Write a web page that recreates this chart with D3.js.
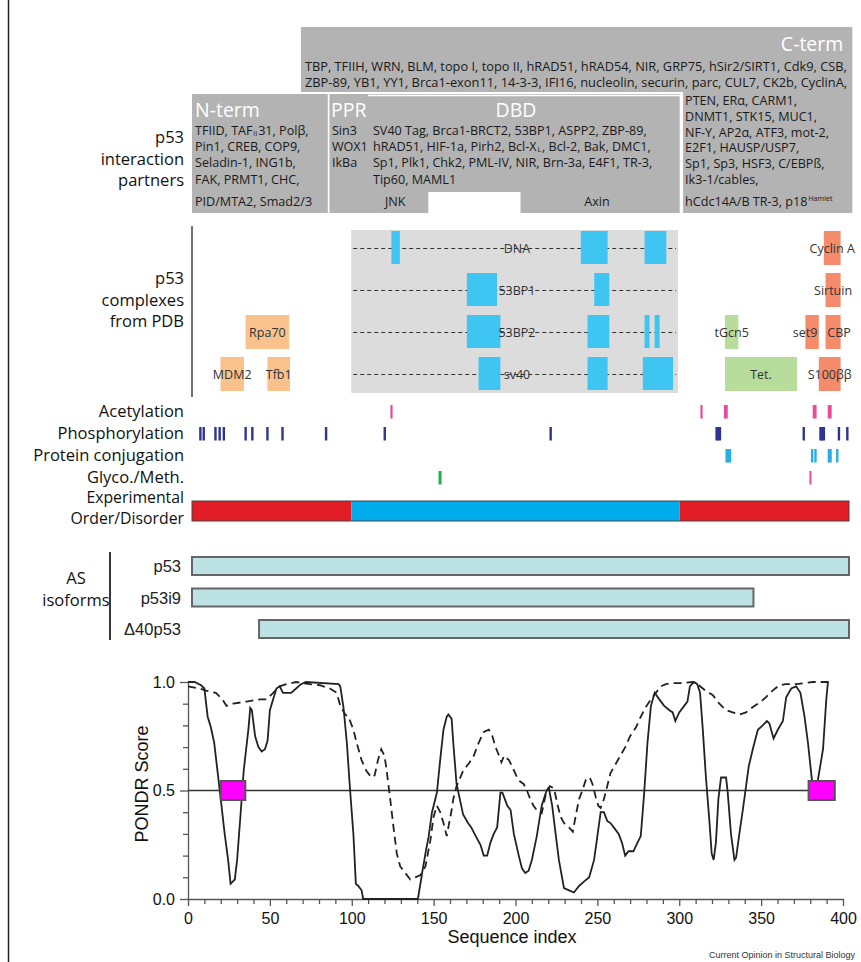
<!DOCTYPE html>
<html><head><meta charset="utf-8">
<script src="https://cdn.jsdelivr.net/npm/d3@7/dist/d3.min.js"></script>
<style>body{margin:0;background:#fff}svg{display:block}</style>
</head><body>
<svg id="c" width="861" height="962"></svg>
<script>
// ================= DATA =================
const seqLength = 393;

// interaction partner regions (residues)
const partnerDomains = ["N-term", "PPR", "DBD", "C-term"];
const partnerRanges = [[1, 82], [83, 106], [106, 292], [294, 395]];
const ctermTopRange = [66, 395];
const dbdNotch = [142, 197];

const ntermPartners = ["TFIID, TAF_{II}31, Polβ,", "Pin1, CREB, COP9,", "Seladin-1, ING1b,", "FAK, PRMT1, CHC,", "PID/MTA2, Smad2/3"];
const pprPartners = ["Sin3", "WOX1", "IkBa"];
const dbdPartners = ["SV40 Tag, Brca1-BRCT2, 53BP1, ASPP2, ZBP-89,", "hRAD51, HIF-1a, Pirh2, Bcl-X_{L}, Bcl-2, Bak, DMC1,", "Sp1, Plk1, Chk2, PML-IV, NIR, Brn-3a, E4F1, TR-3,", "Tip60, MAML1"];
const dbdLowerPartners = ["JNK", "Axin"];
const ctermTopPartners = ["TBP, TFIIH, WRN, BLM, topo I, topo II, hRAD51, hRAD54, NIR, GRP75, hSir2/SIRT1, Cdk9, CSB,",
  "ZBP-89, YB1, YY1, Brca1-exon11, 14-3-3, IFI16, nucleolin, securin, parc, CUL7, CK2b, CyclinA,"];
const ctermSidePartners = ["PTEN, ERα, CARM1,", "DNMT1, STK15, MUC1,", "NF-Y, AP2α, ATF3, mot-2,", "E2F1, HAUSP/USP7,", "Sp1, Sp3, HSF3, C/EBPß,", "Ik3-1/cables,", "hCdc14A/B TR-3, p18^{Hamlet}"];

// PDB complexes
const pdbRegion = [96, 291];
const dbdRows = ["DNA", "53BP1", "53BP2", "sv40"];
const dbdSegments = [
  [[120, 125], [233, 249], [271, 284]],
  [[165, 183], [241, 250]],
  [[165, 185], [237, 250], [271, 274], [277, 280]],
  [[172, 185], [237, 249], [270, 288]]
];
const ntermComplexes = [["MDM2", 3, 18, 32], ["Rpa70", 2, 33, 59], ["Tfb1", 3, 46, 59.5]];
const tetComplexes = [["tGcn5", 2, 319, 327], ["Tet.", 3, 319, 362]];
const ctermComplexes = [["Cyclin A", 0, 378, 388], ["Sirtuin", 1, 379, 388], ["set9", 2, 367, 375], ["CBP", 2, 379, 388], ["S100ββ", 3, 375, 388]];

// PTMs
const ptmRows = ["Acetylation", "Phosphorylation", "Protein conjugation", "Glyco./Meth."];
const acetylationSites = [120, 305, 319, 320, 372, 373, 381, 382];
const phosphorylationSites = [6, 8, 15, 17.5, 20, 33, 37, 46, 55, 81, 116, 215, 314, 315, 316, 366, 376, 377, 378, 387, 392];
const conjugationSites = [320, 321, 322, 371, 373, 381, 382, 386];
const glycosylationSites = [149];
const methylationSites = [370];

// experimental order / disorder
const orderSegments = [[1, 96, "disorder"], [96, 292, "order"], [292, 393, "disorder"]];

// alternative splicing isoforms
const isoformNames = ["p53", "p53i9", "Δ40p53"];
const isoformRanges = [[1, 393], [1, 336], [41, 393]];

// PONDR scores [sequence index, score]
const pondrSolid = [[0,1.0],[4,1.0],[8,0.985],[10,0.97],[12,0.84],[14,0.79],[16,0.72],[18,0.59],[20,0.46],[22.4,0.30],[24.5,0.18],[26,0.07],[28.6,0.09],[30,0.18],[32,0.38],[34,0.59],[37,0.79],[38,0.88],[39,0.87],[41,0.75],[43,0.70],[45,0.68],[47,0.69],[48.6,0.73],[50,0.87],[52,0.92],[54,0.97],[56,0.98],[58,0.95],[60,0.95],[63,0.95],[66,0.97],[69,0.99],[72,1.0],[92,0.99],[93,0.98],[95,0.88],[97,0.72],[99,0.50],[101,0.30],[102.5,0.07],[104,0.06],[106,0.04],[107,0.0],[140.4,0.0],[143,0.12],[145,0.21],[147,0.29],[149,0.40],[151,0.46],[152,0.49],[154,0.64],[156,0.78],[158,0.84],[159,0.85],[161,0.83],[162,0.72],[164,0.53],[166,0.46],[168,0.39],[171,0.35],[173,0.33],[175,0.30],[178.6,0.25],[180.6,0.20],[182.7,0.20],[184.7,0.26],[186.7,0.30],[188.8,0.33],[190.8,0.49],[192,0.49],[195,0.43],[197,0.41],[199,0.30],[202,0.20],[204,0.14],[206,0.12],[208,0.13],[210,0.18],[213,0.29],[216,0.43],[219,0.50],[220.4,0.51],[222.4,0.43],[224.5,0.30],[226.5,0.18],[229.6,0.05],[232.7,0.04],[235.7,0.03],[238.8,0.06],[241.8,0.08],[245,0.10],[248,0.18],[250,0.29],[252,0.40],[254,0.40],[256,0.36],[258,0.35],[260,0.33],[263,0.30],[265,0.26],[267,0.20],[269,0.22],[272,0.22],[274.5,0.26],[276.5,0.29],[278.6,0.49],[280.6,0.72],[282.7,0.89],[285,0.95],[287.8,0.92],[290.8,0.89],[294,0.87],[296,0.86],[297.6,0.82],[300,0.86],[303,0.89],[305,0.91],[306.5,0.98],[309,1.0],[311,0.99],[312.7,0.95],[314.3,0.79],[316.3,0.56],[318.4,0.36],[319.8,0.21],[321,0.18],[322.4,0.26],[323.9,0.46],[325.5,0.56],[328.6,0.56],[329.6,0.49],[331.6,0.30],[333.7,0.18],[334.7,0.19],[336.7,0.30],[338.8,0.41],[340.8,0.52],[342.4,0.61],[344.9,0.69],[348,0.78],[351,0.80],[353.5,0.82],[355,0.81],[357.6,0.74],[360.2,0.78],[363.3,0.82],[365.3,0.93],[368.4,0.97],[371.4,0.98],[374,0.95],[376.5,0.84],[378.6,0.72],[381,0.55],[382.7,0.52],[384.7,0.55],[387.8,0.69],[389.8,0.92],[390.8,1.0]];
const pondrDashed = [[0,0.98],[7,0.97],[11,0.96],[17,0.95],[21,0.92],[23.5,0.89],[27.5,0.90],[35.7,0.91],[44,0.92],[48,0.92],[52,0.95],[56,0.98],[60,0.99],[66,1.0],[74.5,0.99],[80.6,0.985],[86.7,0.97],[90.8,0.95],[93,0.89],[96,0.85],[98,0.84],[101,0.78],[103,0.72],[106,0.64],[109,0.59],[112,0.56],[114,0.57],[116,0.64],[118,0.69],[120,0.66],[121,0.61],[123.5,0.46],[125.5,0.33],[127.5,0.21],[129.6,0.15],[132.7,0.12],[135.7,0.09],[138.8,0.10],[142,0.11],[145,0.15],[148,0.27],[150,0.38],[152,0.43],[154,0.40],[156,0.35],[158,0.29],[159,0.33],[161,0.41],[162,0.46],[164,0.52],[168,0.59],[172,0.63],[174.5,0.66],[177.5,0.72],[180.6,0.77],[183.7,0.78],[185.7,0.755],[187.8,0.70],[190,0.66],[191.4,0.63],[193,0.66],[196,0.64],[198,0.61],[201,0.56],[203,0.54],[205,0.53],[207,0.50],[209,0.46],[211,0.43],[214,0.40],[216,0.395],[217,0.43],[219,0.50],[221,0.52],[223.5,0.51],[225.5,0.44],[227.5,0.38],[229.6,0.35],[232.7,0.33],[235,0.31],[236.7,0.38],[238.8,0.46],[240.8,0.50],[243,0.55],[245.3,0.56],[247,0.53],[249,0.47],[250.6,0.43],[252,0.42],[254,0.46],[256,0.52],[258,0.58],[261,0.62],[264,0.66],[267,0.70],[270,0.75],[273.5,0.79],[276.5,0.84],[279.6,0.885],[282.7,0.92],[285.7,0.95],[288.8,0.98],[291.8,0.99],[296,0.995],[302,0.995],[308,1.0],[312,0.985],[316,0.96],[320.4,0.94],[324.5,0.90],[328.6,0.87],[332.6,0.86],[336.7,0.85],[340.8,0.86],[345,0.885],[350,0.91],[353,0.93],[357,0.96],[361,0.985],[365,0.99],[371.4,0.99],[381.6,1.0],[393,1.0]];
const pondrThreshold = 0.5;
const pondrThresholdEnd = 380;
const pondrBoxes = [[20, 35], [379, 395]];
const xTickLabels = [0, 50, 100, 150, 200, 250, 300, 350, 400];
const yTickLabels = ["0.0", "0.5", "1.0"];

// ================= DRAWING =================
const svg = d3.select("#c");
const SANS = "'Open Sans','Noto Sans',sans-serif";
const ARIAL = "'Liberation Sans',Arial,sans-serif";
const GRAY = "#b3b3b3";

const seq = d3.scaleLinear().domain([1, seqLength]).range([192, 849]);

// rich text line: pieces as separate text elements, optionally squeezed to a width
function richLine(parent, x, y, str, style, maxW, exact) {
  const g = parent.append("g");
  const parts = str.split(/(_\{[^}]*\}|\^\{[^}]*\})/).filter(s => s);
  let cx = x, prevSmall = false;
  parts.forEach(p => {
    let s = 0, txt = p, small = false;
    if (p.startsWith("_{")) { s = 1.8; txt = p.slice(2, -1); small = true; }
    else if (p.startsWith("^{")) { s = -4.5; txt = p.slice(2, -1); small = true; }
    if (small || prevSmall) cx += 0.8;
    const t = g.append("text").call(style).attr("x", cx).attr("y", y + s).text(txt);
    if (small) t.attr("font-size", 7.2);
    cx += t.node().getComputedTextLength();
    prevSmall = small;
  });
  const w = cx - x;
  if (maxW && (w > maxW || exact)) {
    const k = maxW / w;
    g.attr("transform", `translate(${x},0) scale(${k},1) translate(${-x},0)`);
  }
  return g;
}
function fit(sel, maxW) {
  sel.each(function () {
    const w = this.getComputedTextLength();
    if (w > maxW) { this.setAttribute("textLength", maxW); this.setAttribute("lengthAdjust", "spacingAndGlyphs"); }
  });
}
function multiline(x, y0, dy, lines, style) {
  const t = svg.append("text").call(style).attr("x", x).attr("y", y0);
  lines.forEach((l, i) => t.append("tspan").attr("x", x).attr("dy", i === 0 ? 0 : dy).text(l));
  return t;
}

// left frame line
svg.append("line").attr("x1", 8.5).attr("x2", 8.5).attr("y1", 0).attr("y2", 962).attr("stroke", "#222").attr("stroke-width", 1.5);

// ---- interaction partner boxes ----
const topG = svg.append("g");
const boxTop = 94, boxBottom = 213, ctTop = 27, ctBottom = 92;
topG.append("rect").attr("x", seq(ctermTopRange[0])).attr("y", ctTop)
  .attr("width", seq(ctermTopRange[1]) - seq(ctermTopRange[0])).attr("height", ctBottom - ctTop).attr("fill", GRAY);
topG.append("rect").attr("x", seq(partnerRanges[3][0])).attr("y", ctBottom)
  .attr("width", seq(partnerRanges[3][1]) - seq(partnerRanges[3][0])).attr("height", boxBottom - ctBottom).attr("fill", GRAY);
topG.append("rect").attr("x", seq(partnerRanges[0][0])).attr("y", boxTop)
  .attr("width", seq(partnerRanges[0][1]) - seq(partnerRanges[0][0])).attr("height", boxBottom - boxTop).attr("fill", GRAY);
topG.append("rect").attr("x", seq(partnerRanges[1][0])).attr("y", boxTop)
  .attr("width", seq(partnerRanges[2][1]) - seq(partnerRanges[1][0])).attr("height", boxBottom - boxTop).attr("fill", GRAY);
topG.append("line").attr("x1", seq(partnerRanges[2][0])).attr("x2", seq(partnerRanges[2][1]))
  .attr("y1", boxTop + 1.5).attr("y2", boxTop + 1.5).attr("stroke", "#fff").attr("stroke-width", 1.3);
topG.append("rect").attr("x", seq(dbdNotch[0])).attr("y", 192)
  .attr("width", seq(dbdNotch[1]) - seq(dbdNotch[0])).attr("height", boxBottom - 192 + 1).attr("fill", "#fff");

// titles
const titleStyle = s => s.attr("font-family", SANS).attr("font-size", 19.5).attr("fill", "#fff");
topG.append("text").call(titleStyle).attr("x", seq(partnerRanges[0][0]) + 3).attr("y", 116.5).text(partnerDomains[0]);
topG.append("text").call(titleStyle).attr("x", seq(partnerRanges[1][0]) + 1.5).attr("y", 116.5).text(partnerDomains[1]);
topG.append("text").call(titleStyle).attr("x", 516).attr("y", 117).attr("text-anchor", "middle").text(partnerDomains[2]);
topG.append("text").call(titleStyle).attr("x", seq(partnerRanges[3][1]) - 9).attr("y", 50.5).attr("text-anchor", "end").text(partnerDomains[3]);

const lineStyle = s => s.attr("font-family", SANS).attr("font-size", 12.6).attr("fill", "#1a1a1a");
const lowerY = [134.5, 150.5, 167, 183.5, 205.5];
ntermPartners.forEach((t, i) => richLine(topG, seq(partnerRanges[0][0]) + 3, lowerY[i], t, lineStyle, 128));
pprPartners.forEach((t, i) => richLine(topG, seq(partnerRanges[1][0]) + 2.5, lowerY[i], t, lineStyle, 40));
dbdPartners.forEach((t, i) => richLine(topG, seq(partnerRanges[2][0]) + 5, lowerY[i], t, lineStyle, 286));
topG.append("text").call(lineStyle).attr("x", seq(partnerRanges[2][0]) + 17).attr("y", lowerY[4]).text(dbdLowerPartners[0]);
topG.append("text").call(lineStyle).attr("x", 597).attr("y", lowerY[4]).attr("text-anchor", "middle").text(dbdLowerPartners[1]);
ctermTopPartners.forEach((t, i) => richLine(topG, seq(ctermTopRange[0]) + 4, [71, 87][i], t, lineStyle, 542, true));
const sideY = [104.5, 120.5, 136.5, 152, 168, 184, 205.5];
ctermSidePartners.forEach((t, i) => richLine(topG, seq(partnerRanges[3][0]) + 2, sideY[i], t, lineStyle, 164));

// ---- left section labels ----
const labStyle = s => s.attr("font-family", SANS).attr("font-size", 16.5).attr("fill", "#111").attr("text-anchor", "end");
multiline(184, 143, 21.5, ["p53", "interaction", "partners"], labStyle);
multiline(184, 284, 21.5, ["p53", "complexes", "from PDB"], labStyle);
multiline(184, 417, 22, ptmRows, labStyle);
multiline(184, 503, 20.5, ["Experimental", "Order/Disorder"], s => labStyle(s).attr("font-size", 15.8));

// ---- PDB complexes ----
const pdb = svg.append("g");
const rowTop = r => 231 + 42 * r, rowH = 33;
pdb.append("line").attr("x1", 192).attr("x2", 192).attr("y1", 226).attr("y2", 397).attr("stroke", "#444").attr("stroke-width", 1.5);
pdb.append("rect").attr("x", seq(pdbRegion[0])).attr("y", 230).attr("width", seq(pdbRegion[1]) - seq(pdbRegion[0])).attr("height", 163).attr("fill", "#dcdcdc");
dbdRows.forEach((name, r) => {
  const yc = rowTop(r) + rowH / 2 + 1;
  pdb.append("line").attr("x1", seq(pdbRegion[0]) + 2).attr("x2", seq(pdbRegion[1]) - 2).attr("y1", yc).attr("y2", yc)
    .attr("stroke", "#333").attr("stroke-width", 1).attr("stroke-dasharray", "4,3");
  dbdSegments[r].forEach(([a, b]) => {
    pdb.append("rect").attr("x", seq(a)).attr("y", rowTop(r)).attr("width", seq(b) - seq(a)).attr("height", rowH).attr("fill", "#3fc5f1");
  });
  pdb.append("text").attr("x", 517).attr("y", yc + 4.5).attr("text-anchor", "middle")
    .attr("font-family", SANS).attr("font-size", 12.5).attr("fill", "#333").text(name);
});
function complexBoxes(list, color) {
  list.forEach(([name, r, a, b]) => {
    pdb.append("rect").attr("x", seq(a)).attr("y", rowTop(r)).attr("width", seq(b) - seq(a)).attr("height", rowH + 1).attr("fill", color);
  });
}
complexBoxes(ntermComplexes, "#f9c28d");
complexBoxes(tetComplexes, "#b8dc9c");
complexBoxes(ctermComplexes, "#f48c6b");
const labelShift = { "set9": -7, "CBP": 6 };
[...ntermComplexes, ...tetComplexes, ...ctermComplexes].forEach(([name, r, a, b]) => {
  pdb.append("text").attr("x", (seq(a) + seq(b)) / 2 + (labelShift[name] || 0)).attr("y", rowTop(r) + rowH / 2 + 5)
    .attr("text-anchor", "middle").attr("font-family", SANS).attr("font-size", 12.5).attr("fill", "#333").text(name);
});

// ---- PTMs ----
const ptm = svg.append("g");
const ptmTop = i => 405 + 22 * i, ptmH = 13.5;
function marks(sites, row, color, w) {
  sites.forEach(s => ptm.append("rect").attr("x", seq(s) - w / 2).attr("y", ptmTop(row)).attr("width", w).attr("height", ptmH).attr("fill", color));
}
marks(acetylationSites, 0, "#ea4a9b", 2.2);
marks(phosphorylationSites, 1, "#2c3592", 2.4);
marks(conjugationSites, 2, "#27aee8", 2.4);
marks(glycosylationSites, 3, "#21ae4a", 3);
marks(methylationSites, 3, "#ea4a9b", 2);

orderSegments.forEach(([a, b, kind]) => {
  ptm.append("rect").attr("x", seq(a)).attr("y", 501).attr("width", seq(b) - seq(a)).attr("height", 20)
    .attr("fill", kind === "order" ? "#00adec" : "#e31d25");
});
ptm.append("rect").attr("x", seq(1)).attr("y", 501).attr("width", seq(seqLength) - seq(1)).attr("height", 20)
  .attr("fill", "none").attr("stroke", "#444").attr("stroke-width", 1);

// ---- isoforms ----
const iso = svg.append("g");
iso.append("line").attr("x1", 110).attr("x2", 110).attr("y1", 552).attr("y2", 640).attr("stroke", "#222").attr("stroke-width", 1.8);
multiline(76, 584, 22, ["AS", "isoforms"], s => s.attr("font-family", SANS).attr("font-size", 16.5).attr("fill", "#111").attr("text-anchor", "middle"));
isoformNames.forEach((name, i) => {
  const [a, b] = isoformRanges[i];
  const y0 = 557 + 31.5 * i;
  iso.append("rect").attr("x", seq(a)).attr("y", y0).attr("width", seq(b) - seq(a)).attr("height", 18)
    .attr("fill", "#bde2e5").attr("stroke", "#666").attr("stroke-width", 2);
  iso.append("text").attr("x", 181).attr("y", y0 + 15).attr("text-anchor", "end").attr("font-family", ARIAL)
    .attr("font-size", 16.5).attr("fill", "#222").text(name);
});

// ---- PONDR plot ----
const px = d3.scaleLinear().domain([0, 400]).range([188, 843]);
const py = d3.scaleLinear().domain([0, 1]).range([899, 682]);
const pg = svg.append("g");
const xAxis = d3.axisBottom(px).tickValues(d3.range(0, 401, 10)).tickSize(5).tickSizeOuter(0)
  .tickFormat(d => xTickLabels.includes(d) ? d : "");
const gx = pg.append("g").attr("transform", "translate(0,899)").call(xAxis);
gx.selectAll(".tick line").filter(d => xTickLabels.includes(d)).attr("y2", 7);
gx.selectAll("text").attr("font-family", ARIAL).attr("font-size", 16).attr("fill", "#111").attr("dy", "1.05em");
const yTickVals = yTickLabels.map(Number);
const yAxis = d3.axisLeft(py).tickValues(d3.range(0, 11).map(d => d / 10)).tickSize(5).tickSizeOuter(0)
  .tickFormat(d => { const i = yTickVals.findIndex(v => Math.abs(v - d) < 1e-6); return i >= 0 ? yTickLabels[i] : ""; });
const gy = pg.append("g").attr("transform", "translate(188,0)").call(yAxis);
gy.selectAll(".tick line").filter(d => yTickVals.some(v => Math.abs(v - d) < 1e-6)).attr("x2", -8);
gy.selectAll("text").attr("font-family", ARIAL).attr("font-size", 16).attr("fill", "#111").attr("x", -13);
pg.selectAll(".domain, .tick line").attr("stroke", "#555").attr("stroke-width", 1.3);

const line = d3.line().x(d => px(d[0])).y(d => py(d[1]));
pg.append("line").attr("x1", px(0)).attr("x2", px(pondrThresholdEnd)).attr("y1", py(pondrThreshold)).attr("y2", py(pondrThreshold))
  .attr("stroke", "#333").attr("stroke-width", 1.5);
pg.append("path").datum(pondrDashed).attr("d", line).attr("fill", "none").attr("stroke", "#222").attr("stroke-width", 1.8).attr("stroke-dasharray", "8,5");
pg.append("path").datum(pondrSolid).attr("d", line).attr("fill", "none").attr("stroke", "#222").attr("stroke-width", 1.8);
pondrBoxes.forEach(([a, b]) => {
  pg.append("rect").attr("x", px(a)).attr("y", py(pondrThreshold) - 9.5).attr("width", px(b) - px(a)).attr("height", 19)
    .attr("fill", "#ff00ff").attr("stroke", "#555").attr("stroke-width", 2);
});
pg.append("text").attr("transform", "translate(148,784) rotate(-90)").attr("text-anchor", "middle")
  .attr("font-family", ARIAL).attr("font-size", 18).attr("fill", "#111").text("PONDR Score");
pg.append("text").attr("x", 512).attr("y", 943).attr("text-anchor", "middle")
  .attr("font-family", ARIAL).attr("font-size", 18).attr("fill", "#111").text("Sequence index");
const credit = pg.append("text").attr("x", 855).attr("y", 958).attr("text-anchor", "end")
  .attr("font-family", ARIAL).attr("font-size", 9).attr("fill", "#333").text("Current Opinion in Structural Biology");
fit(credit, 155);
</script>
</body></html>
